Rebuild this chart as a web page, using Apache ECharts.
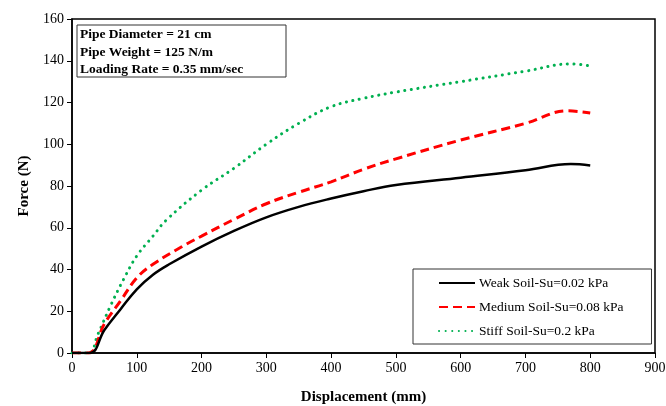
<!DOCTYPE html>
<html>
<head>
<meta charset="utf-8">
<script src="https://cdn.jsdelivr.net/npm/echarts@6/dist/echarts.min.js"></script>
<style>
  html, body { margin: 0; padding: 0; background: #fff; }
  #chart { width: 666px; height: 406px; }
</style>
</head>
<body>
<div id="chart"></div>
<script>
// displacement (mm) and force (N)
const weakX = [0, 28, 50, 75, 100, 125, 150, 200, 250, 300, 350, 400, 450, 500, 600, 700, 770, 800];
const weakY = [0, 0, 11, 21, 30.5, 37.5, 42.5, 51, 58.5, 65, 70, 74, 77.5, 80.5, 84, 87.5, 90.5, 89.8];

const mediumX = [0, 26, 50, 75, 100, 125, 170, 200, 250, 300, 350, 400, 450, 500, 600, 700, 765, 800];
const mediumY = [0, 0, 14, 25, 36, 42.5, 51, 56, 64, 71.5, 77, 82, 88, 93, 102, 110, 116, 115];

const stiffX = [0, 26, 40, 60, 80, 100, 125, 145, 200, 250, 300, 350, 400, 450, 500, 600, 700, 770, 800];
const stiffY = [0, 0, 9, 23, 35.5, 46.5, 56, 63.5, 78, 88.5, 100, 110, 118, 122, 125, 130, 135, 138.5, 137.5];

const seriesNames = ['Weak Soil-Su=0.02 kPa', 'Medium Soil-Su=0.08 kPa', 'Stiff Soil-Su=0.2 kPa'];
const infoLines = ['Pipe Diameter = 21 cm', 'Pipe Weight = 125 N/m', 'Loading Rate = 0.35 mm/sec'];

const pairs = (xs, ys) => xs.map((x, i) => [x, ys[i]]);

const serif = 'Liberation Serif, Times New Roman, serif';

const chart = echarts.init(document.getElementById('chart'));

const option = {
    animation: false,
    grid: {
        left: 72,
        right: 11,
        top: 19,
        bottom: 53,
        outerBoundsMode: 'none',
        show: true,
        borderColor: '#000',
        borderWidth: 1.5,
    },
    legend: {
        orient: 'vertical',
        left: 413,
        top: 269,
        padding: [7, 28, 6, 25],
        itemGap: 10,
        itemWidth: 36,
        itemHeight: 14,
        borderColor: '#333',
        borderWidth: 1,
        borderRadius: 0,
        backgroundColor: '#fff',
        itemStyle: { opacity: 0 },
        textStyle: { fontFamily: serif, fontSize: 13.5, color: '#000', padding: [0, 0, 0, -1] },
        data: seriesNames,
    },
    graphic: [
        {
            type: 'rect',
            shape: { x: 77, y: 25, width: 209, height: 52 },
            style: { fill: '#fff', stroke: '#333', lineWidth: 1 },
        },
        ...infoLines.map((t, i) => ({
            type: 'text',
            left: 80,
            top: 28 + i * 17.5,
            style: { text: t, fontFamily: serif, fontWeight: 'bold', fontSize: 13.5, fill: '#000' },
        })),
    ],
    xAxis: {
        type: 'value',
        min: 0,
        max: 900,
        interval: 100,
        name: 'Displacement (mm)',
        nameLocation: 'middle',
        nameGap: 37,
        nameTextStyle: { fontFamily: serif, fontWeight: 'bold', fontSize: 15, color: '#000' },
        axisLine: { show: true, lineStyle: { color: '#000', width: 1.5 } },
        axisTick: { show: true, inside: false, length: 5, lineStyle: { color: '#000' } },
        axisLabel: { fontFamily: serif, fontSize: 14, color: '#000', margin: 8 },
        splitLine: { show: false },
    },
    yAxis: {
        type: 'value',
        min: 0,
        max: 160,
        interval: 20,
        name: 'Force (N)',
        nameLocation: 'middle',
        nameGap: 40,
        nameTextStyle: { fontFamily: serif, fontWeight: 'bold', fontSize: 15, color: '#000' },
        axisLine: { show: true, lineStyle: { color: '#000', width: 1.5 } },
        axisTick: { show: true, inside: false, length: 5, lineStyle: { color: '#000' } },
        axisLabel: { fontFamily: serif, fontSize: 14, color: '#000', margin: 8 },
        splitLine: { show: false },
    },
    series: [
        {
            name: seriesNames[0],
            type: 'line',
            data: pairs(weakX, weakY),
            smooth: 0.4,
            symbol: 'none',
            itemStyle: { color: '#000' },
            lineStyle: { color: '#000', width: 2.5 },
            z: 4,
        },
        {
            name: seriesNames[1],
            type: 'line',
            data: pairs(mediumX, mediumY),
            smooth: 0.4,
            symbol: 'none',
            itemStyle: { color: '#ff0000' },
            lineStyle: { color: '#ff0000', width: 3, type: [9, 5] },
            z: 3,
        },
        {
            name: seriesNames[2],
            type: 'line',
            data: pairs(stiffX, stiffY),
            smooth: 0.4,
            symbol: 'none',
            itemStyle: { color: '#00b050' },
            lineStyle: { color: '#00b050', width: 3, type: [0.1, 6.5], cap: 'round' },
            z: 2,
        },
    ],
};

chart.setOption(option);
</script>
</body>
</html>
